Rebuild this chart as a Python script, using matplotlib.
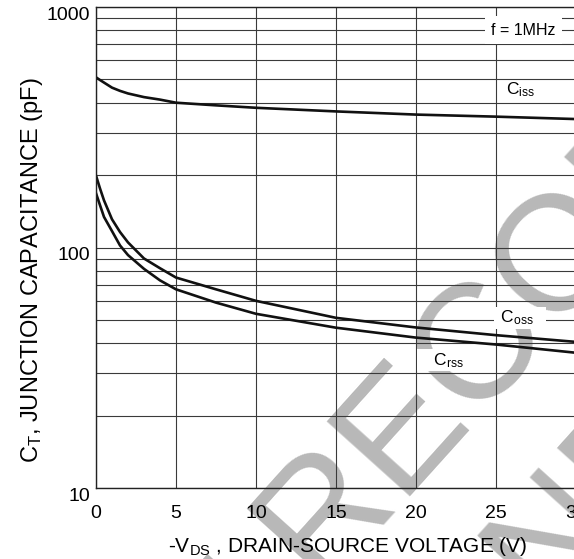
import matplotlib
matplotlib.use('Agg')
import matplotlib.pyplot as plt
from matplotlib.ticker import NullFormatter

plt.rcParams['font.family'] = ['Liberation Sans', 'DejaVu Sans']
plt.rcParams['mathtext.fontset'] = 'custom'
plt.rcParams['mathtext.rm'] = 'Liberation Sans'
plt.rcParams['mathtext.it'] = 'Liberation Sans:italic'

# valores
vds = [0, 0.25, 0.5, 1, 1.5, 2, 3, 4, 5, 7.5, 10, 15, 20, 25, 30]
c_iss = [510, 497, 485, 462, 448, 437, 422, 412, 400, 390, 381, 368, 357, 350, 342]
c_oss = [199, 176, 157, 131, 116, 105, 90, 82, 75, 67, 60, 51, 46.5, 43.2, 40.5]
c_rss = [168, 150, 134, 117, 102, 93, 81.5, 73, 67, 59, 53, 46.4, 42.2, 39.5, 36.5]

x_ticks = [0, 5, 10, 15, 20, 25, 30]
y_ticks = [10, 100, 1000]
y_tick_labels = ['10', '100', '1000']

fig = plt.figure(figsize=(5.74, 5.59), dpi=100)
fig.patch.set_facecolor('white')
ax = fig.add_axes([96/574, 1 - 488/559, 480/574, 481/559])
ax.set_facecolor('none')

# marca de agua detras de todo
wm = dict(fontsize=118, color='#b8b8b8', rotation=48, rotation_mode='anchor',
          ha='left', va='baseline', zorder=-5)
fig.text(63/574, -324/559, 'NOT RECOMMENDED', **wm)
fig.text(291/574, -353/559, 'FOR NEW DESIGN', **wm)

ax.plot(vds, c_iss, color='#111111', lw=1.9)
ax.plot(vds, c_oss, color='#111111', lw=1.9)
ax.plot(vds, c_rss, color='#111111', lw=1.9)

ax.set_yscale('log')
ax.set_xlim(0, 30)
ax.set_ylim(10, 1000)
ax.set_xticks(x_ticks)
ax.set_yticks(y_ticks)
ax.set_yticklabels(y_tick_labels, va='top')
ax.yaxis.set_minor_formatter(NullFormatter())
ax.tick_params(axis='both', which='both', length=0, labelsize=14)
ax.tick_params(axis='x', pad=12)
ax.tick_params(axis='y', pad=4.5)

ax.grid(True, which='both', axis='y', color='#3a3a3a', lw=0.8)
ax.grid(True, which='major', axis='x', color='#3a3a3a', lw=0.8)
ax.set_axisbelow(True)
for s in ax.spines.values():
    s.set_color('#222222')
    s.set_linewidth(1.0)

ax.set_xlabel(r'-V$_\mathregular{DS}$ , DRAIN-SOURCE VOLTAGE (V)', fontsize=15, va='baseline')
ax.xaxis.set_label_coords(0.524, -0.133)
ax.set_ylabel(r'C$_\mathregular{T}$, JUNCTION CAPACITANCE (pF)', fontsize=17, va='baseline')
ax.yaxis.set_label_coords(-0.120, 0.453)

ax.text(26.7, 800, 'f = 1MHz', fontsize=11.5, ha='center', va='center',
        bbox=dict(boxstyle='square,pad=0.4', fc='white', ec='none'))
ax.text(25.6, 452, r'C$_\mathregular{iss}$', fontsize=12.5, ha='left', va='center')
ax.text(25.0, 51, r' C$_\mathregular{oss}$   ', fontsize=12.5, ha='left', va='center',
        bbox=dict(boxstyle='square,pad=0.1', fc='white', ec='none'))
ax.text(20.2, 34, r'   C$_\mathregular{rss}$  ', fontsize=12.5, ha='left', va='center',
        bbox=dict(boxstyle='square,pad=0.1', fc='white', ec='none'))

fig.savefig('out.png', dpi=100)
